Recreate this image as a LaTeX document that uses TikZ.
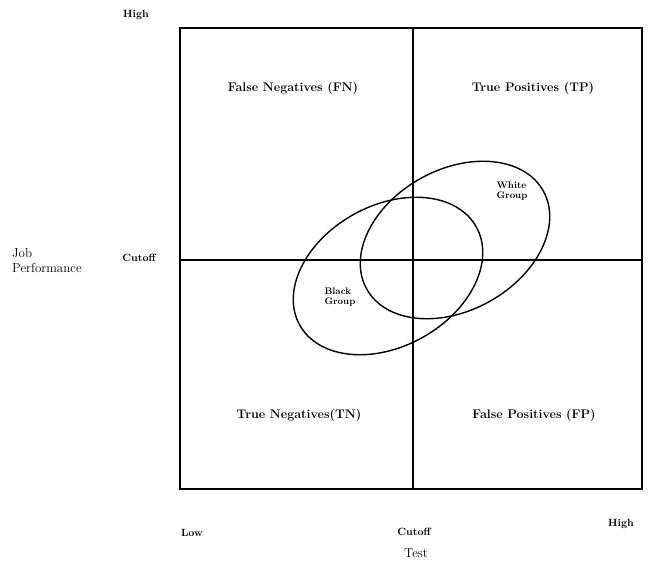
\documentclass[tikz,border=0pt]{standalone}
\begin{document}
\begin{tikzpicture}[x=1pt,y=-1pt,
  quad/.style={font=\fontsize{12.5}{14}\selectfont\bfseries},
  axlbl/.style={font=\fontsize{10.5}{12}\selectfont\bfseries},
  grp/.style={font=\fontsize{9.5}{10.5}\selectfont\bfseries,align=left},
  ttl/.style={font=\fontsize{13}{15}\selectfont},
  line/.style={line width=1.1pt},
  ell/.style={line width=1.4pt}]
\useasboundingbox (0,0) rectangle (653,568);
\coordinate (tl) at (180,28);
\coordinate (br) at (642,489);
\coordinate (vt) at (413,28);
\coordinate (vb) at (413,489);
\coordinate (hl) at (180,260);
\coordinate (hr) at (642,260);
\draw[line] (tl) rectangle (br);
\draw[line] (vt) -- (vb);
\draw[line] (hl) -- (hr);
\draw[ell,rotate around={29:(388,276)}] (388,276) ellipse [x radius=101, y radius=70.5];
\draw[ell,rotate around={29:(455,240)}] (455,240) ellipse [x radius=101, y radius=70.5];
\node[quad] (fn) at (293,88) {False Negatives (FN)};
\node[quad] (tp) at (533,88) {True Positives (TP)};
\node[quad] (tn) at (299,415) {True Negatives(TN)};
\node[quad] (fp) at (534,415) {False Positives (FP)};
\node[grp] (wg) at (512,191) {White\\Group};
\node[grp] (bg) at (340,297) {Black\\Group};
\node[axlbl] (hy) at (136,15) {High};
\node[axlbl] (cy) at (139,258) {Cutoff};
\node[ttl,align=left,anchor=west,inner sep=0pt] (jp) at (12,261) {Job\\Performance};
\node[axlbl] (lx) at (192,533) {Low};
\node[axlbl] (cx) at (414,532) {Cutoff};
\node[axlbl] (hx) at (621,524) {High};
\node[ttl] (tx) at (416,553) {Test};
\end{tikzpicture}
\end{document}
